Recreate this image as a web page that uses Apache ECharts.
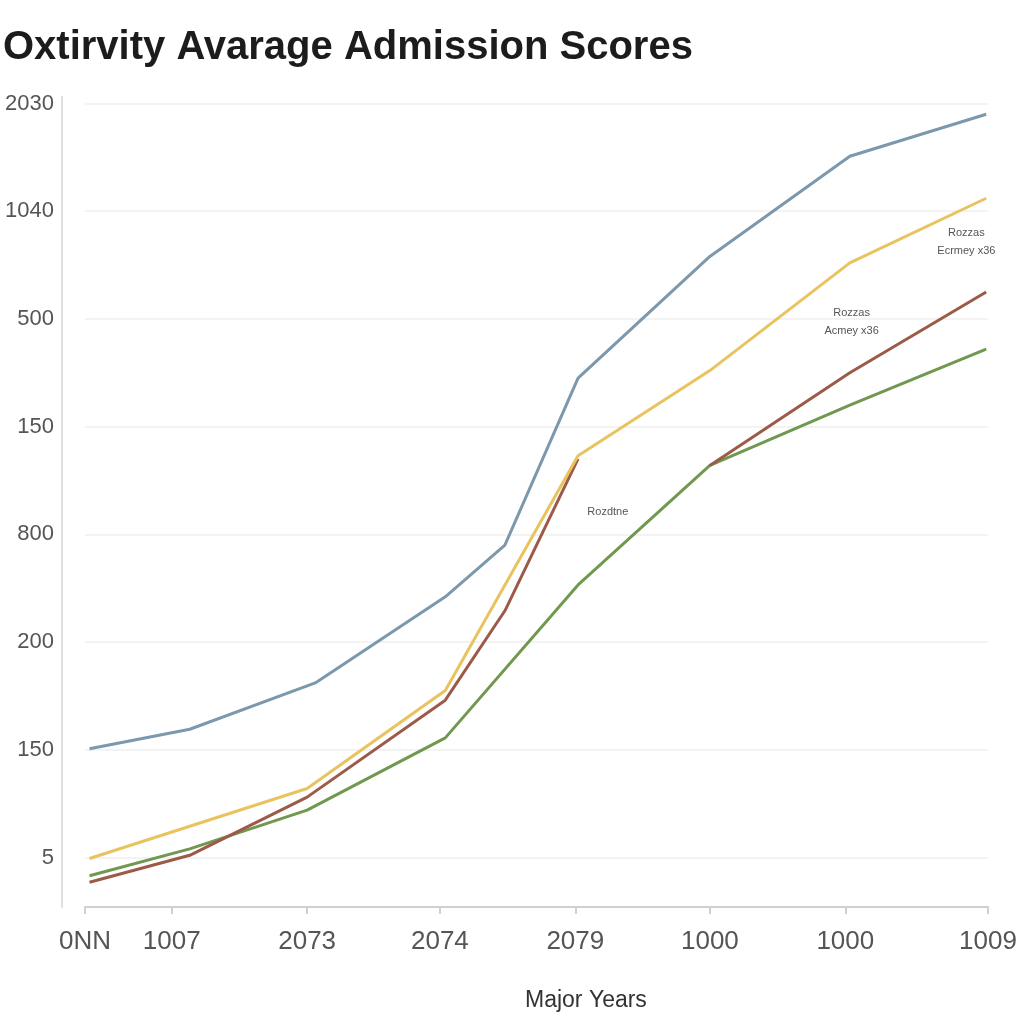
<!DOCTYPE html>
<html>
<head>
<meta charset="utf-8">
<script src="https://cdn.jsdelivr.net/npm/echarts@6/dist/echarts.min.js"></script>
<style>html,body{margin:0;padding:0;background:#fff;}#c{width:1024px;height:1024px;}</style>
</head>
<body>
<div id="c"></div>
<script>
// Tick labels
const yTickLabels = ['5', '150', '200', '800', '150', '500', '1040', '2030'];
const yTickValues = [0, 100, 200, 300, 400, 500, 600, 700];
const xTickLabels = ['0NN', '1007', '2073', '2074', '2079', '1000', '1000', '1009'];
const xTickValues = [0, 9.6, 24.6, 39.3, 54.3, 69.2, 84.2, 100];

// Series (x position on the years scale, y position on the score scale)
const blueX = [0.5, 11.6, 25.5, 39.9, 46.5, 54.6, 69.2, 84.7, 99.8];
const blueY = [101, 119, 162, 242, 290, 445, 558, 651, 690];
const yellowX = [0.5, 11.6, 24.6, 39.9, 54.6, 69.2, 84.7, 99.8];
const yellowY = [-1, 29, 64, 155, 373, 452, 552, 612];
const brownX = [0.5, 11.6, 24.6, 39.9, 46.5, 54.6, 62, 69.2, 84.7, 99.8];
const brownY = [-23, 2, 56, 146, 229, 370, '-', 364, 450, 525];
const greenX = [0.5, 11.6, 24.6, 39.9, 54.6, 69.2, 84.7, 99.8];
const greenY = [-17, 8, 44, 111, 253, 364, 420, 472];

// Annotations
const noteTexts = ['Rozzas\nEcrmey x36', 'Rozzas\nAcmey x36', 'Rozdtne'];
const noteX = [97.6, 84.9, 57.9];
const noteY = [571, 497, 321];

function pts(xs, ys) { return xs.map((x, i) => [x, ys[i]]); }

const chart = echarts.init(document.getElementById('c'));
const lineStyleBase = { width: 3 };
chart.setOption({
  backgroundColor: '#ffffff',
  animation: false,
  title: [
    { text: 'Oxtirvity Avarage Admission Scores', left: -2, top: 23,
      textStyle: { fontFamily: 'Liberation Sans', fontSize: 40, fontWeight: 'bold', color: '#1c1c1c' } },
    { text: 'Major Years', left: 520, top: 984,
      textStyle: { fontFamily: 'Liberation Sans', fontSize: 23, fontWeight: 'normal', color: '#333' } }
  ],
  grid: { left: 85, right: 36, top: 97, bottom: 117, containLabel: false },
  xAxis: {
    type: 'value', min: 0, max: 100,
    axisLine: { show: true, onZero: false, lineStyle: { color: '#d0d0d0', width: 2 } },
    axisTick: { show: true, customValues: xTickValues, length: 7, lineStyle: { color: '#d0d0d0', width: 2 } },
    axisLabel: {
      customValues: xTickValues, margin: 22,
      formatter: function (v) { const i = xTickValues.indexOf(v); return i >= 0 ? xTickLabels[i] : ''; },
      fontFamily: 'Liberation Sans', fontSize: 26, color: '#555'
    },
    splitLine: { show: false }
  },
  yAxis: {
    type: 'value', min: -46, max: 706, offset: 23,
    axisLine: { show: true, onZero: false, lineStyle: { color: '#e0e0e0', width: 2 } },
    axisTick: { show: false, customValues: yTickValues },
    axisLabel: {
      customValues: yTickValues, margin: 8,
      formatter: function (v) { const i = yTickValues.indexOf(v); return i >= 0 ? yTickLabels[i] : ''; },
      fontFamily: 'Liberation Sans', fontSize: 22, color: '#555'
    },
    splitLine: { show: true, lineStyle: { color: '#f3f3f3', width: 2 } }
  },
  series: [
    { type: 'line', name: 'blue', data: pts(blueX, blueY), symbol: 'none',
      lineStyle: Object.assign({ color: '#7b98ad' }, lineStyleBase), itemStyle: { color: '#7b98ad' } },
    { type: 'line', name: 'green', data: pts(greenX, greenY), symbol: 'none',
      lineStyle: Object.assign({ color: '#70984e' }, lineStyleBase), itemStyle: { color: '#70984e' } },
    { type: 'line', name: 'brown', data: pts(brownX, brownY), symbol: 'none', connectNulls: false,
      lineStyle: Object.assign({ color: '#9c5a48' }, lineStyleBase), itemStyle: { color: '#9c5a48' } },
    { type: 'line', name: 'yellow', data: pts(yellowX, yellowY), symbol: 'none',
      lineStyle: Object.assign({ color: '#e8c35e' }, lineStyleBase), itemStyle: { color: '#e8c35e' },
      markPoint: {
        symbol: 'circle', symbolSize: 0,
        label: { show: true, position: 'inside', fontFamily: 'Liberation Sans', fontSize: 11, color: '#555', lineHeight: 18, align: 'center' },
        data: noteTexts.map((t, i) => ({ coord: [noteX[i], noteY[i]], value: t, label: { formatter: t } }))
      } }
  ]
});
</script>
</body>
</html>
